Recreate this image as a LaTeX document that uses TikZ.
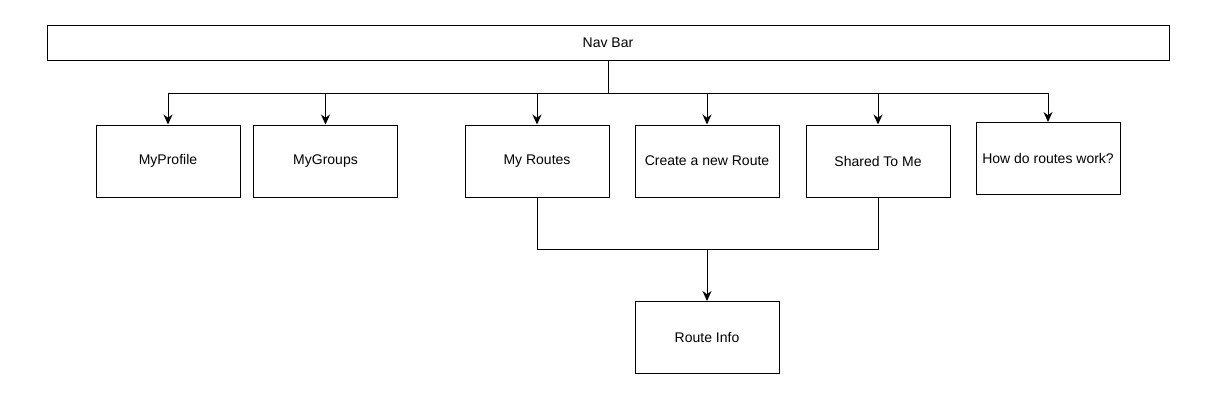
\documentclass[tikz,border=0pt]{standalone}
\usepackage{fontspec}
\setmainfont{Liberation Sans}
\usetikzlibrary{arrows.meta}
\def\boxwidth{144pt}
\def\boxheight{72pt}

\begin{document}
\begin{tikzpicture}[x=1pt,y=-1pt,line width=1pt,>={Stealth[length=10pt,width=9pt]}]
		\tikzstyle{page}=[draw,rectangle,minimum width=\boxwidth,minimum height=\boxheight,inner sep=0pt,font=\fontsize{14}{16}\selectfont]
		\tikzstyle{bar}=[page,minimum width=1122pt,minimum height=35pt]
		\useasboundingbox (0,0) rectangle (1228,405);
		
		% Draw the nav bar
		\node[bar] (nav) at (608,42.5) {Nav Bar};
		
		% Draw the pages under the nav bar
		\node[page] (profile) at (168,161) {MyProfile};
		\node[page] (groups) at (325.5,161) {MyGroups};
		\node[page] (routes) at (537,161) {My Routes};
		\node[page] (create) at (707,161) {Create a new Route};
		\node[page] (shared) at (878,161) {Shared To Me};
		\node[page] (howto) at (1048,158.5) {How do routes work?};
		
		% Draw the route info page
		\node[page] (info) at (707,337.5) {Route Info};
		
		% Split the nav bar into the pages
		\coordinate (split) at (608,93);
		\draw (nav.south) -- (split);
		\foreach \dest in {profile,groups,routes,create,shared,howto}
		\draw[->] (split) -| (\dest.north);
		
		% Join My Routes and Shared To Me into Route Info
		\coordinate (merge) at (707,249);
		\draw (routes.south) |- (merge);
		\draw (shared.south) |- (merge);
		\draw[->] (merge) -- (info.north);
	\end{tikzpicture}
\end{document}
